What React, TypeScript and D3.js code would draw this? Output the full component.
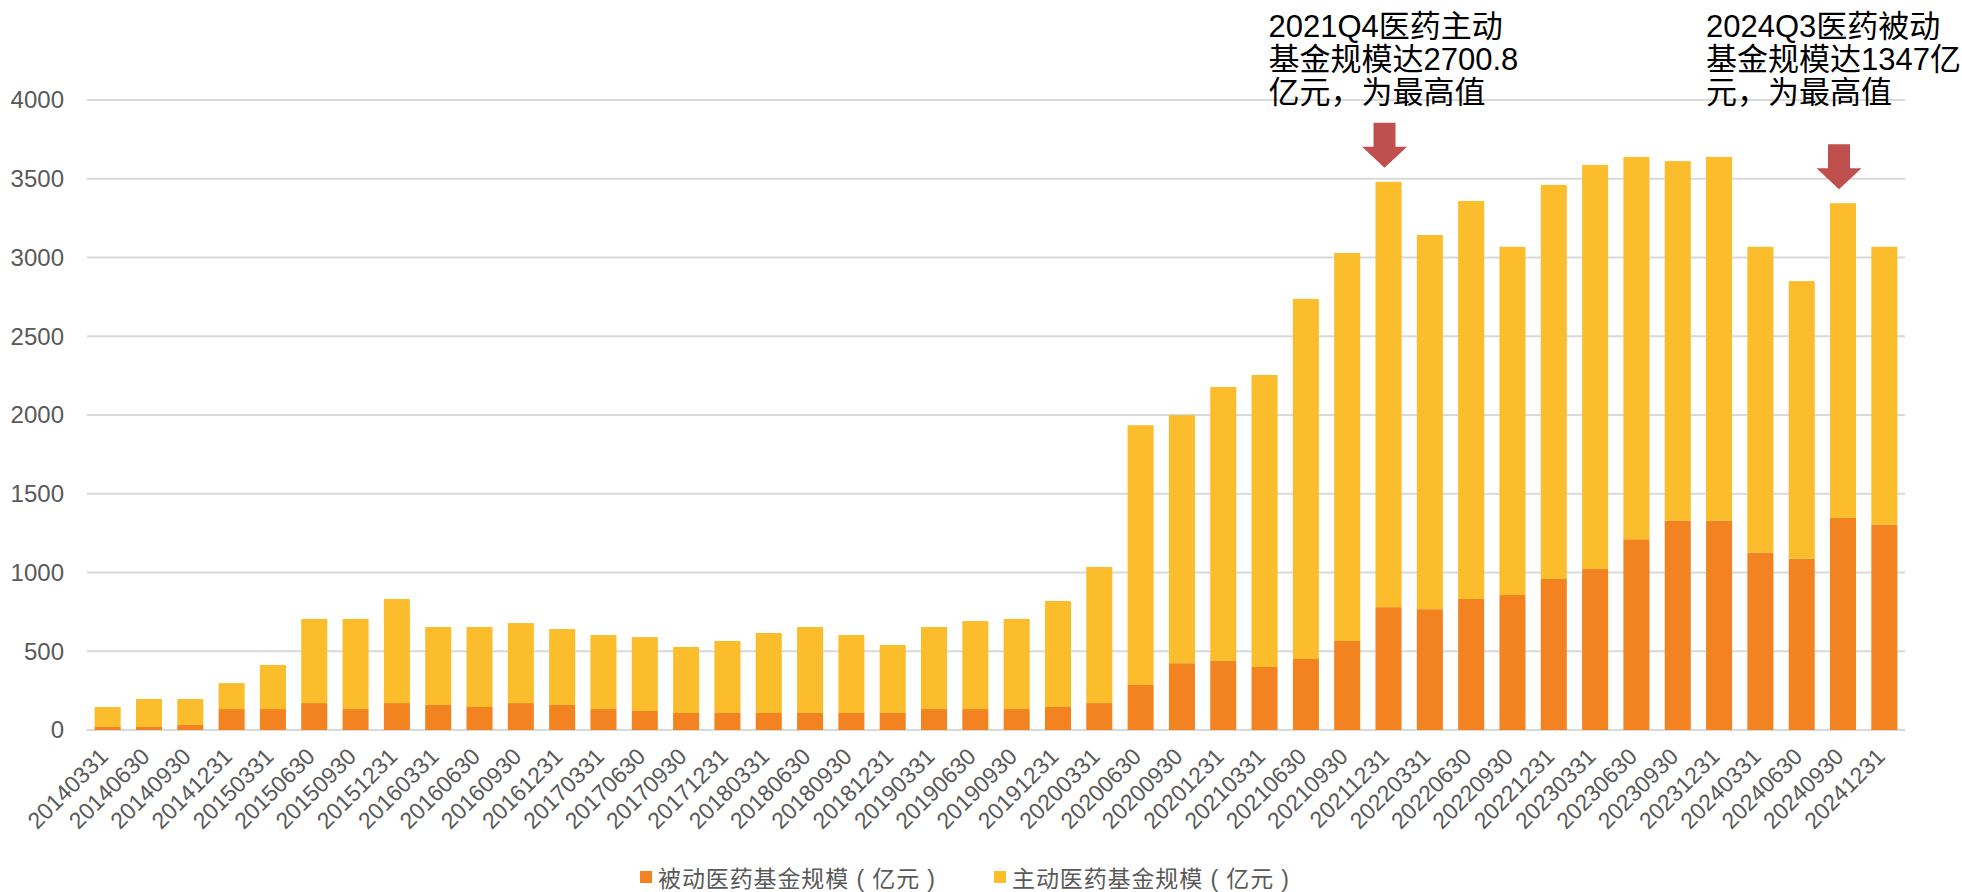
import * as d3 from "d3";

const dates = [
  "20140331", "20140630", "20140930", "20141231",
  "20150331", "20150630", "20150930", "20151231",
  "20160331", "20160630", "20160930", "20161231",
  "20170331", "20170630", "20170930", "20171231",
  "20180331", "20180630", "20180930", "20181231",
  "20190331", "20190630", "20190930", "20191231",
  "20200331", "20200630", "20200930", "20201231",
  "20210331", "20210630", "20210930", "20211231",
  "20220331", "20220630", "20220930", "20221231",
  "20230331", "20230630", "20230930", "20231231",
  "20240331", "20240630", "20240930", "20241231",
];

// 被动医药基金规模（亿元）
const passive = [
  19, 19, 32, 133, 133, 171, 133, 171, 159, 146, 171, 159,
  133, 121, 108, 108, 108, 108, 108, 108, 133, 133, 133, 146,
  171, 286, 424, 439, 400, 451, 565, 780, 767, 832, 857, 959,
  1022, 1211, 1328, 1328, 1126, 1088, 1347, 1303,
];

// 主动医药基金规模（亿元）
const active = [
  127, 178, 165, 165, 280, 534, 572, 661, 495, 508, 508, 482,
  470, 469, 419, 457, 508, 546, 495, 432, 521, 559, 572, 673,
  864, 1649, 1575, 1739, 1854, 2286, 2464, 2700.8, 2376, 2527, 2211, 2502,
  2566, 2428, 2284, 2311, 1942, 1762, 1998, 1765,
];

const seriesNames = ["被动医药基金规模 ( 亿元 )", "主动医药基金规模 ( 亿元 )"];
const yTicks = [0, 500, 1000, 1500, 2000, 2500, 3000, 3500, 4000];

const noteDates = ["20211231", "20240930"];
const noteLines = [
  ["2021Q4医药主动", "基金规模达2700.8", "亿元，为最高值"],
  ["2024Q3医药被动", "基金规模达1347亿", "元，为最高值"],
];

const W = 1962;
const H = 892;
const font = '"Liberation Sans", Arial, "Noto Sans CJK SC", sans-serif';
const colors = ["#F38321", "#FBBD2C"];

export default function App() {
  const left = 87, right = 1905, top = 100, bottom = 730;

  const x = d3.scaleBand().domain(dates).range([left, right])
    .paddingInner(0.37).paddingOuter(0.185);
  const y = d3.scaleLinear().domain([0, 4000]).range([bottom, top]);

  const rows = dates.map((d, i) => ({ date: d, passive: passive[i], active: active[i] }));
  const stacked = d3.stack<any>().keys(["passive", "active"])(rows);

  // text block offset from the bar centre, per note
  const noteOffsets = [-120, -137];

  return (
    <svg width={W} height={H} style={{ position: "absolute", left: 0, top: 0, fontFamily: font }}>
      <rect width={W} height={H} fill="#fff" />
      {yTicks.map(t => (
        <g key={t}>
          <line x1={left} x2={right} y1={y(t)} y2={y(t)} stroke="#D9D9D9" strokeWidth={2} />
          <text x={64} y={y(t)} dy="0.35em" textAnchor="end" fontSize={24} fill="#595959">{t}</text>
        </g>
      ))}
      {stacked.map((s, si) => (
        <g key={si} fill={colors[si]}>
          {s.map((p, i) => (
            <rect key={i} x={x(dates[i])} width={x.bandwidth()}
              y={y(p[1])} height={y(p[0]) - y(p[1])} />
          ))}
        </g>
      ))}
      {dates.map(d => {
        const cx = x(d)! + x.bandwidth() / 2 + 2;
        return (
          <text key={d} transform={`translate(${cx},${bottom + 28}) rotate(-45)`}
            textAnchor="end" fontSize={23} fill="#595959">{d}</text>
        );
      })}
      {noteDates.map((d, k) => {
        const i = dates.indexOf(d);
        const cx = x(d)! + x.bandwidth() / 2 - 4;
        const tip = y(passive[i] + active[i]) - 14;
        const len = 45, head = 21, sw = 11, hw = 22.5;
        const pts = [
          [cx - sw, tip - len], [cx + sw, tip - len], [cx + sw, tip - head],
          [cx + hw, tip - head], [cx, tip], [cx - hw, tip - head], [cx - sw, tip - head],
        ].map(p => p.join(",")).join(" ");
        const tx = x(d)! + x.bandwidth() / 2 + noteOffsets[k];
        return (
          <g key={d}>
            <polygon points={pts} fill="#C0504D" />
            {noteLines[k].map((line, j) => (
              <text key={j} x={tx} y={37 + j * 33} fontSize={31} fill="#000">{line}</text>
            ))}
          </g>
        );
      })}
      {seriesNames.map((n, i) => {
        const lx = i === 0 ? 640 : 994;
        return (
          <g key={n}>
            <rect x={lx} y={871} width={12} height={12} fill={colors[i]} />
            <text x={lx + 18} y={887} fontSize={23} fill="#595959"
              textLength={277} lengthAdjust="spacing">{n}</text>
          </g>
        );
      })}
    </svg>
  );
}
